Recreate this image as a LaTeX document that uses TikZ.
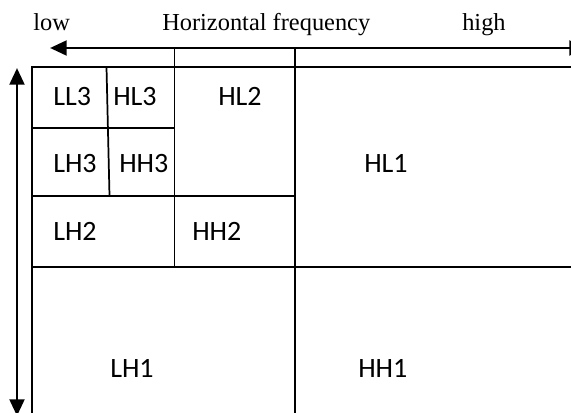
\documentclass[tikz,border=0pt]{standalone}
\usepackage{fontspec}
\setmainfont{Liberation Serif}
\newfontfamily\lblfont{Carlito}
\usetikzlibrary{arrows.meta}
\begin{document}
\begin{tikzpicture}[x=0.75pt,y=-0.75pt,
  gridline/.style={line width=1.3pt, line cap=rect},
  axis2/.style={line width=2.2pt, {Triangle[length=12.5pt,width=11pt]}-{Triangle[length=12.5pt,width=11pt]}},
  band/.style={anchor=base west, inner sep=0pt, font=\lblfont\fontsize{21pt}{24pt}\selectfont},
  captext/.style={anchor=base west, inner sep=0pt, font=\fontsize{18.3pt}{21pt}\selectfont}]
\useasboundingbox (0,0) rectangle (571,413);
% captions
\node[captext] (low) at (33,31) {low};
\node[captext] (hf) at (162,31) {Horizontal frequency};
\node[captext] (high) at (462,31) {high};
% axes
\coordinate (hl) at (50,48);
\coordinate (hr) at (586,48);
\coordinate (vt) at (17,68);
\coordinate (vb) at (17,416);
\draw[axis2] (hr) -- (hl);
\draw[axis2] (vb) -- (vt);
% grid
\draw[gridline] (32,420) -- (32,67) -- (580,67);
\draw[gridline] (32,267) -- (580,267);
\draw[gridline] (32,196) -- (295,196);
\draw[gridline] (32,128) -- (174.5,128);
\draw[gridline] (174.5,48) -- (174.5,267);
\draw[gridline] (295,48) -- (295,420);
\draw[gridline] (106.5,67) -- (109.5,196);
% labels
\node[band] (ll3) at (53,106) {LL3};
\node[band] (hl3) at (113,106) {HL3};
\node[band] (hl2) at (218,106) {HL2};
\node[band] (lh3) at (53,173) {LH3};
\node[band] (hh3) at (119,173) {HH3};
\node[band] (hl1) at (364,173) {HL1};
\node[band] (lh2) at (53,241) {LH2};
\node[band] (hh2) at (192,241) {HH2};
\node[band] (lh1) at (110,377) {LH1};
\node[band] (hh1) at (358,377) {HH1};
\end{tikzpicture}
\end{document}
